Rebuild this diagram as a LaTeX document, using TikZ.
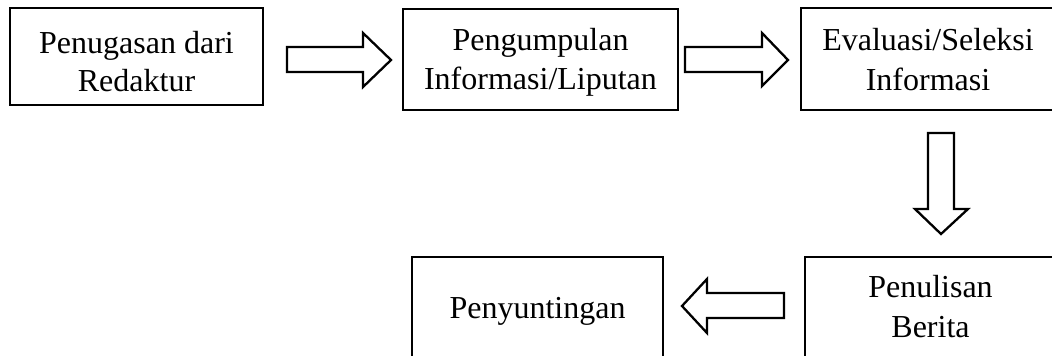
\documentclass[tikz,border=0pt]{standalone}
\usepackage{fontspec}
\setmainfont{Liberation Serif}
\begin{document}
\begin{tikzpicture}[x=1pt,y=-1pt,
  box/.style={draw, line width=2.3pt, rectangle, inner sep=0pt},
  txt/.style={font=\fontsize{32}{38}\selectfont, anchor=base, inner sep=0pt},
  blockarrow/.style={draw, line width=2.3pt, fill=white, line join=miter}]
\clip (0,0) rectangle (1052,356);
% boxes
\node[box, minimum width=253pt, minimum height=97pt]  (b1) at (136.5,56.5) {};
\node[box, minimum width=275pt, minimum height=101pt] (b2) at (540.5,59.5) {};
\node[box, minimum width=254pt, minimum height=102pt] (b3) at (928,59) {};
\node[box, minimum width=251pt, minimum height=102pt] (b4) at (537.5,308) {};
\node[box, minimum width=251pt, minimum height=102pt] (b5) at (930.5,308) {};
% texts
\node[txt] (t1a) at (136.5,53) {Penugasan dari};
\node[txt] (t1b) at (136.5,91) {Redaktur};
\node[txt] (t2a) at (540.5,50) {Pengumpulan};
\node[txt] (t2b) at (540.5,89) {Informasi/Liputan};
\node[txt] (t3a) at (928,50) {Evaluasi/Seleksi};
\node[txt] (t3b) at (928,90) {Informasi};
\node[txt] (t4)  at (537.5,318) {Penyuntingan};
\node[txt] (t5a) at (930.5,297) {Penulisan};
\node[txt] (t5b) at (930.5,337) {Berita};
% block arrows
\draw[blockarrow] (287,47) -- (363,47) -- (363,33) -- (391,60) -- (363,87) -- (363,72) -- (287,72) -- cycle;
\draw[blockarrow] (685,47) -- (762,47) -- (762,33) -- (788,60) -- (762,86) -- (762,72) -- (685,72) -- cycle;
\draw[blockarrow] (928,133) -- (954,133) -- (954,209) -- (968,209) -- (941,234) -- (915,209) -- (928,209) -- cycle;
\draw[blockarrow] (784,293) -- (707,293) -- (707,279) -- (682,306) -- (707,333) -- (707,318) -- (784,318) -- cycle;
\end{tikzpicture}
\end{document}
